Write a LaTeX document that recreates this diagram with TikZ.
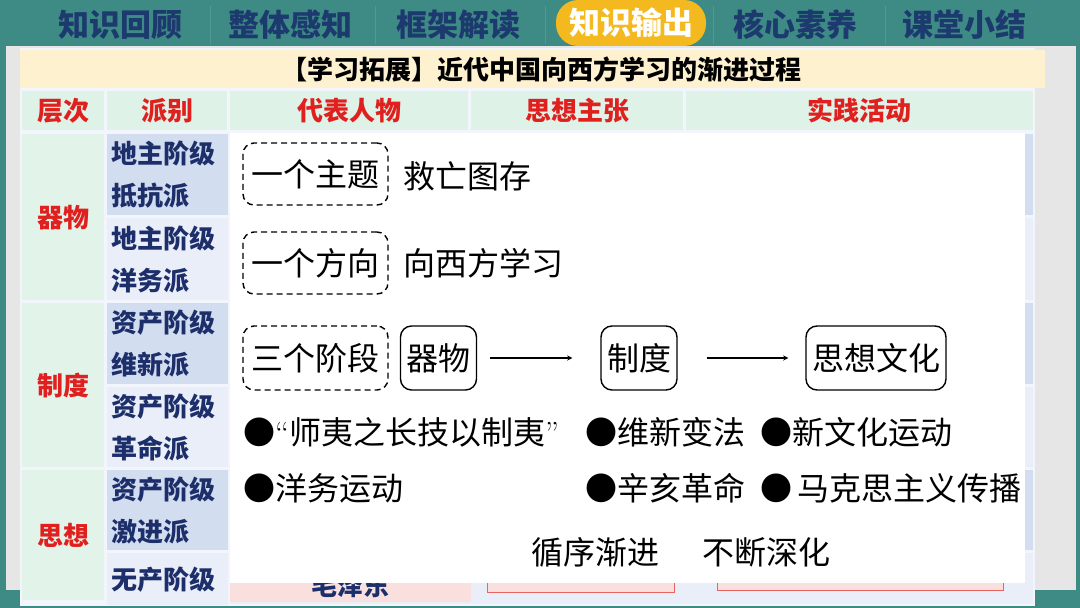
\documentclass[tikz,border=0pt]{standalone}
\usepackage{fontspec}
\newfontfamily\cjk{Noto Sans CJK SC}
\definecolor{bgteal}{HTML}{3E8B85}
\definecolor{tabsep}{HTML}{4F9A93}
\definecolor{tabnavy}{HTML}{1C3A6E}
\definecolor{pillyel}{HTML}{F4B91F}
\definecolor{paper}{HTML}{E6E6E6}
\definecolor{cream}{HTML}{FDF1CF}
\definecolor{hmint}{HTML}{DFF2E8}
\definecolor{lmint}{HTML}{E2F3EA}
\definecolor{cellblue}{HTML}{D3DDF0}
\definecolor{celllite}{HTML}{E9EEF8}
\definecolor{hred}{HTML}{E0201E}
\definecolor{pnavy}{HTML}{1D2F6B}
\definecolor{pinkcell}{HTML}{F9E0DF}
\begin{document}
\begin{tikzpicture}[x=1pt,y=-1pt,>=stealth,font=\cjk\fontsize{32}{32}\selectfont,
  tab/.style={text=tabnavy,inner sep=0pt,font=\cjk\bfseries\fontsize{31}{31}\selectfont},
  hcell/.style={anchor=north west,fill=hmint,text=hred,inner sep=0pt,minimum height=39pt,font=\cjk\bfseries\fontsize{26}{26}\selectfont},
  lvcell/.style={anchor=north west,fill=lmint,text=hred,inner sep=0pt,minimum width=82pt,font=\cjk\bfseries\fontsize{26}{26}\selectfont},
  pbcell/.style={anchor=north west,text=pnavy,inner xsep=3pt,inner ysep=0pt,minimum width=121pt,text width=113pt,align=left,font=\cjk\bfseries\fontsize{26}{42}\selectfont},
  dbox/.style={draw,dash pattern=on 6pt off 4pt,line width=1.4pt,rounded corners=11pt,minimum width=145pt,minimum height=62pt,inner sep=0pt},
  sbox/.style={draw,line width=1.4pt,rounded corners=11pt,minimum height=64pt,inner xsep=6pt,inner ysep=0pt},
  item/.style={anchor=west,inner sep=0pt}]
  \useasboundingbox (0,0) rectangle (1080,608);
  \fill[bgteal] (0,0) rectangle (1080,608);
  % top tabs
  \foreach \x in {210,375,545,713,885} \draw[tabsep,line width=1pt] (\x,6) -- (\x,44);
  \node[tab] (t1) at (120,25) {知识回顾};
  \node[tab] (t2) at (290,25) {整体感知};
  \node[tab] (t3) at (458,25) {框架解读};
  \node[tab,fill=pillyel,text=white,rounded corners=22pt,minimum width=150pt,minimum height=46pt] (t4) at (631,23) {知识输出};
  \node[tab] (t5) at (795,25) {核心素养};
  \node[tab] (t6) at (964,25) {课堂小结};
  % paper and table frame
  \fill[paper] (6,46) rectangle (1076,590);
  \fill[celllite!60] (20,48) rectangle (1035,606);
  \fill[cream] (20,50) rectangle (1045,88);
  \node[inner sep=0pt,font=\cjk\bfseries\fontsize{26}{26}\selectfont] (tt) at (541,70) {【学习拓展】近代中国向西方学习的渐进过程};
  % header row
  \node[hcell,minimum width=82pt] (h1) at (22,91) {层次};
  \node[hcell,minimum width=120pt] (h2) at (107,91) {派别};
  \node[hcell,minimum width=238pt] (h3) at (230,91) {代表人物};
  \node[hcell,minimum width=212pt] (h4) at (471,91) {思想主张};
  \node[hcell,minimum width=347pt] (h5) at (686,91) {实践活动};
  % level column
  \node[lvcell,minimum height=166pt] (lv1) at (22,134) {器物};
  \node[lvcell,minimum height=164pt] (lv2) at (22,303) {制度};
  \node[lvcell,minimum height=130pt] (lv3) at (22,470) {思想};
  % faction column
  \node[pbcell,fill=cellblue,minimum height=81pt] (p1) at (107,134) {地主阶级\\抵抗派};
  \node[pbcell,fill=celllite,minimum height=82pt] (p2) at (107,218) {地主阶级\\洋务派};
  \node[pbcell,fill=cellblue,minimum height=81pt] (p3) at (107,303) {资产阶级\\维新派};
  \node[pbcell,fill=celllite,minimum height=80pt] (p4) at (107,387) {资产阶级\\革命派};
  \node[pbcell,fill=cellblue,minimum height=80pt] (p5) at (107,470) {资产阶级\\激进派};
  \node[pbcell,fill=celllite,minimum height=52pt] (p6) at (107,553) {无产阶级};
  % other cells, mostly hidden
  \foreach \ya/\yb/\c in {134/215/cellblue,218/300/celllite,303/384/cellblue,387/467/celllite,470/550/cellblue,553/604/celllite}
    \fill[\c] (230,\ya) rectangle (1033,\yb);
  \fill[pinkcell] (230,553) rectangle (471,602);
  \node[inner sep=0pt,text=pnavy,font=\cjk\bfseries\fontsize{26}{26}\selectfont] (mzd) at (350,585) {毛泽东};
  \fill[pinkcell,draw=hred!70,line width=0.8pt] (487,560) rectangle (674,592);
  \fill[pinkcell,draw=hred!70,line width=0.8pt] (717,560) rectangle (1003,590);
  % white overlay
  \fill[white] (230,133) rectangle (1025,583);
  \node[dbox] (zt) at (315.5,174) {一个主题};
  \node[item] (jw) at (403,176) {救亡图存};
  \node[dbox] (fx) at (315.5,263) {一个方向};
  \node[item] (xx) at (403,263) {向西方学习};
  \node[dbox,minimum height=64pt] (jd) at (315.5,358) {三个阶段};
  \node[sbox] (qw) at (438.5,358) {器物};
  \node[sbox] (zd) at (639,358) {制度};
  \node[sbox] (sx) at (876,358) {思想文化};
  \draw[->,line width=1.3pt,shorten <=13pt,shorten >=28pt] (qw) -- (zd);
  \draw[->,line width=1.3pt,shorten <=29pt,shorten >=17pt] (zd) -- (sx);
  \node[item] (a1) at (243,432) {●{\rmfamily “}师夷之长技以制夷{\rmfamily ”}};
  \node[item] (a2) at (243,488) {●洋务运动};
  \node[item] (b1) at (585,432) {●维新变法};
  \node[item] (b2) at (585,488) {●辛亥革命};
  \node[item] (c1) at (760,432) {●新文化运动};
  \node[item] (c2) at (760,488) {●\,马克思主义传播};
  \node[inner sep=0pt] (sum) at (681,552) {循序渐进\hspace{43pt}不断深化};
\end{tikzpicture}
\end{document}
